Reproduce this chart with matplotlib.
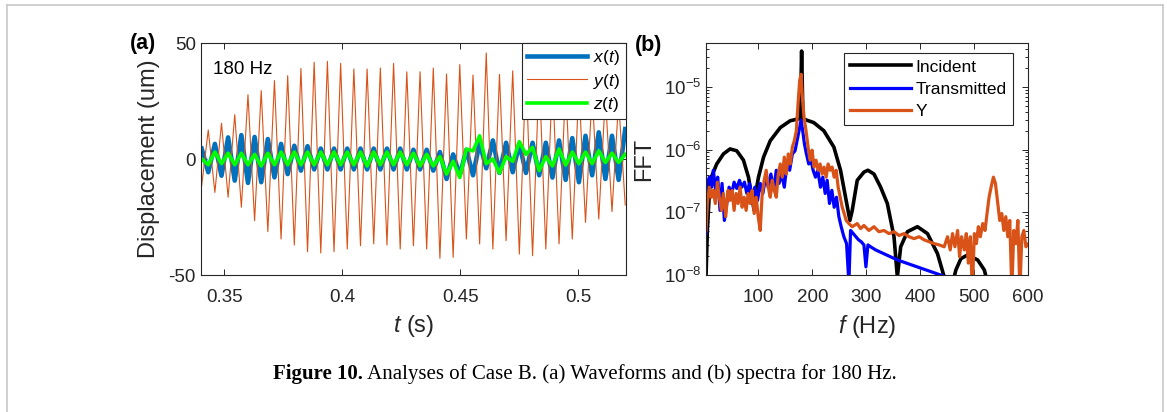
import numpy as np
import matplotlib
matplotlib.use('Agg')
import matplotlib.pyplot as plt
from matplotlib.lines import Line2D
from matplotlib.ticker import FixedLocator, NullFormatter, LogLocator

plt.rcParams['font.family'] = ['Liberation Sans', 'DejaVu Sans']
plt.rcParams['mathtext.fontset'] = 'custom'
plt.rcParams['mathtext.rm'] = 'Liberation Sans'
plt.rcParams['mathtext.it'] = 'Liberation Sans:italic'
plt.rcParams['axes.unicode_minus'] = False

# ---------------- panel (a): waveform extrema (um) ----------------
t_first, t_last = 0.3404, 0.5198          # time of first / last extremum (s)
y_ext = [-11.5, 12.5, -14.4, 15.4, -16.5, 19.1, -20.8, 27.7, -26.6, 29.5,
         -31.3, 33.8, -34.5, 35.9, -37.1, 39.0, -40.0, 41.7, -40.5, 42.1,
         -40.0, 41.2, -38.8, 38.8, -37.4, 38.8, -36.6, 39.2, -37.1, 41.2,
         -38.8, 37.6, -37.4, 37.6, -38.8, 39.2, -42.8, 36.6, -42.4, 40.7,
         -34.5, 36.2, -36.6, 45.7, -38.8, 36.5, -35.2, 38.0, -41.0, 38.0,
         -41.7, 37.0, -38.8, 35.0, -36.6, 33.0, -34.5, 31.0, -27.3, 29.0,
         -25.9, 27.0, -22.7, 25.0, -19.8]
x_ext = [4.5, -5.7, 6.5, -7.2, 9.3, -9.3, 10.3, -10.3, 9.5, -10.0,
         8.6, -7.9, 6.5, -6.5, 5.7, -5.0, 5.5, -4.5, 4.5, -4.5,
         4.5, -4.5, 4.5, -4.5, 4.5, -4.5, 4.5, -4.5, 4.5, -4.5,
         4.5, -4.5, 4.0, -4.5, 4.0, -5.0, 3.0, -8.6, 2.0, -7.0,
         4.0, -7.0, 7.0, -4.0, 8.0, -6.0, 7.0, -5.7, 6.5, -6.0,
         7.0, -7.0, 7.0, -8.0, 8.0, -9.0, 9.0, -10.0, 10.0, -7.0,
         11.5, -8.6, 10.0, -9.0, 12.9]
z_ext = [0.0, -2.5, 3.0, -2.0, 2.5, -2.5, 2.5, -2.5, 2.0, -3.0,
         2.5, -2.5, 3.0, -2.5, 3.0, -2.5, 3.0, -2.5, 3.0, -2.5,
         3.0, -2.5, 3.0, -2.5, 3.0, -3.0, 3.0, -2.5, 3.0, -2.5,
         3.0, -2.5, 2.5, -3.0, 2.0, -3.0, 1.0, -6.5, -1.0, -8.0,
         4.3, 3.5, 10.0, -2.0, 0.0, -6.0, 1.0, -1.0, 7.5, 2.0,
         5.0, -5.0, 1.0, -3.0, 4.3, -2.6, 3.0, -2.0, 3.0, -2.0,
         3.5, -1.5, 2.5, -1.5, 2.0]
t_ext = np.linspace(t_first, t_last, len(y_ext))

a_xticks = [0.35, 0.4, 0.45, 0.5]
a_xticklabels = ['0.35', '0.4', '0.45', '0.5']
a_yticks = [-50, 0, 50]
a_labels = [r'$x(t)$', r'$y(t)$', r'$z(t)$']

# ---------------- panel (b): spectra (f in Hz, log10 of FFT) ----------------
inc_f = [2.6, 5.1, 10.1, 22.5, 34.9, 47.3, 59.7, 72.1, 81.4, 87.6, 92.0, 95.7,
         100.0, 109.4, 121.8, 140.4, 159.0, 174.5, 177.5, 180.0, 182.5, 202.5,
         221.2, 239.8, 252.2, 261.5, 269.6, 273.9, 283.2, 295.6, 303.0, 314.2,
         326.6, 339.0, 351.4, 357.6, 363.8, 376.2, 394.9, 413.5, 432.1, 444.5,
         457.0, 466.2, 475.5, 487.9, 506.6, 519.0, 528.3, 560.0, 600.0]
inc_log = [-8.03, -7.29, -6.49, -6.23, -6.07, -5.99, -6.02, -6.17, -6.44, -6.76,
           -6.97, -6.65, -6.44, -6.12, -5.86, -5.65, -5.54, -5.51, -5.51, -4.43,
           -5.51, -5.57, -5.70, -5.96, -6.33, -6.76, -7.13, -6.97, -6.49, -6.36,
           -6.33, -6.39, -6.60, -6.86, -7.39, -8.03, -7.55, -7.31, -7.23, -7.34,
           -7.66, -8.03, -8.24, -7.92, -7.74, -7.68, -7.76, -7.92, -8.24, -8.6, -8.9]

tr_f = [2.6, 5.1, 8.8, 13.1, 16.2, 20.6, 24.3, 28.6, 32.4, 36.7, 41.1, 45.4,
        50.4, 54.7, 59.7, 64.7, 69.0, 74.0, 78.3, 83.3, 88.3, 93.2, 98.2, 103.2,
        108.1, 113.1, 118.1, 123.0, 128.0, 133.0, 138.0, 142.9, 147.9, 152.8,
        157.8, 162.8, 167.8, 171.5, 175.2, 179.0, 182.0, 185.2, 188.9, 193.2,
        197.6, 201.3, 205.7, 210.0, 215.0, 219.3, 223.7, 227.4, 231.7, 236.1,
        240.4, 244.7, 249.1, 253.4, 258.4, 263.4, 267.7, 270.8, 275.8, 280.7,
        285.7, 290.6, 295.6, 299.3, 303.0, 308.0, 317.3, 357.6, 401.0, 444.5]
tr_log = [-7.34, -6.54, -6.44, -6.60, -6.33, -6.65, -6.44, -6.97, -6.54, -7.13,
          -6.86, -6.60, -6.70, -6.52, -6.62, -6.49, -6.60, -6.52, -6.70, -6.54,
          -6.76, -6.60, -6.81, -6.54, -6.70, -6.44, -6.60, -6.39, -6.65, -6.33,
          -6.54, -6.39, -6.60, -6.23, -6.33, -6.07, -6.02, -5.86, -5.70, -5.53,
          -5.70, -5.91, -6.07, -6.23, -6.17, -6.33, -6.44, -6.33, -6.60, -6.44,
          -6.70, -6.49, -6.86, -6.65, -6.92, -6.76, -7.07, -7.23, -7.39, -7.50,
          -8.13, -7.29, -7.34, -7.39, -7.44, -7.47, -7.52, -7.87, -7.52, -7.55,
          -7.60, -7.76, -7.89, -8.02]

yy_f = [2.6, 5.1, 8.8, 12.5, 16.2, 19.9, 23.7, 27.4, 31.1, 34.9, 39.2, 43.5,
        47.3, 51.0, 54.7, 58.4, 62.2, 65.9, 69.6, 73.4, 77.1, 80.8, 84.5, 88.3,
        92.0, 95.7, 99.4, 103.2, 106.9, 110.6, 114.3, 118.1, 121.8, 125.5, 129.2,
        133.0, 136.7, 140.4, 144.1, 147.9, 151.6, 155.3, 159.0, 162.8, 166.5,
        170.2, 173.3, 176.4, 179.0, 181.4, 184.5, 188.2, 192.0, 195.7, 199.4,
        203.1, 206.8, 210.6, 214.3, 218.0, 221.7, 225.5, 229.2, 232.9, 236.6,
        240.4, 244.1, 247.8, 251.5, 255.3, 259.0, 262.7, 267.7, 273.9, 283.2,
        289.4, 295.6, 304.9, 314.2, 323.5, 332.8, 342.1, 351.4, 360.7, 370.0,
        379.3, 388.6, 398.0, 407.3, 416.6, 425.9, 435.2, 444.5, 450.7, 455.7,
        460.0, 464.4, 469.4, 473.1, 476.8, 481.8, 485.5, 489.3, 493.0, 496.7,
        500.5, 504.2, 507.9, 511.6, 516.0, 520.3, 524.0, 527.8, 531.5, 535.8,
        539.6, 543.9, 547.6, 551.3, 555.1, 558.8, 562.5, 566.2, 570.0, 573.7,
        577.4, 581.2, 584.9, 588.6, 592.3, 596.1, 601.0]
yy_log = [-7.29, -6.86, -6.60, -6.76, -6.65, -6.86, -6.52, -6.76, -6.97, -6.70,
          -7.07, -6.65, -6.81, -6.65, -6.97, -6.70, -6.86, -6.60, -6.92, -6.76,
          -6.97, -6.70, -6.86, -6.65, -7.02, -6.76, -7.07, -7.29, -6.70, -6.49,
          -6.33, -6.60, -6.76, -6.49, -6.65, -6.76, -6.39, -6.23, -6.44, -6.12,
          -6.39, -6.07, -6.23, -5.96, -5.86, -5.70, -5.28, -4.90, -4.80, -5.17,
          -5.49, -5.70, -5.96, -6.17, -6.01, -6.28, -6.17, -6.33, -6.23, -6.39,
          -6.28, -6.44, -6.23, -6.33, -6.28, -6.44, -6.33, -6.60, -6.76, -6.92,
          -7.02, -7.13, -7.18, -7.23, -7.18, -7.26, -7.21, -7.29, -7.23, -7.31,
          -7.29, -7.34, -7.31, -7.37, -7.34, -7.39, -7.42, -7.39, -7.44, -7.47,
          -7.50, -7.52, -7.55, -7.39, -7.60, -7.34, -7.55, -7.29, -7.71, -7.39,
          -7.60, -7.34, -7.81, -7.39, -8.24, -7.34, -7.50, -7.23, -7.39, -7.18,
          -7.29, -7.02, -6.76, -6.60, -6.44, -6.54, -6.86, -7.13, -7.02, -7.29,
          -7.07, -7.39, -7.13, -8.24, -7.29, -7.50, -7.13, -8.24, -7.39, -7.29,
          -7.55, -7.50]

b_xticks = [100, 200, 300, 400, 500, 600]
b_yticks = [1e-8, 1e-7, 1e-6, 1e-5]
b_yticklabels = [r'$10^{-8}$', r'$10^{-7}$', r'$10^{-6}$', r'$10^{-5}$']
b_labels = ['Incident', 'Transmitted', 'Y']

caption_bold = 'Figure 10.'
caption_rest = ' Analyses of Case B. (a) Waveforms and (b) spectra for 180 Hz.'

# ---------------- figure ----------------
W, H = 1167, 412
fig = plt.figure(figsize=(W / 100, H / 100), dpi=100)
fig.patch.set_facecolor('white')

def fx(px):
    return px / W

def fy(py):
    return 1 - py / H

ink = '#262626'

# thin grey frame around the figure block (open at bottom)
frame_c = '#c8c8c8'
fig.add_artist(Line2D([fx(7), fx(7)], [0, fy(5)], color=frame_c, lw=1.2))
fig.add_artist(Line2D([fx(1163), fx(1163)], [0, fy(5)], color=frame_c, lw=1.2))
fig.add_artist(Line2D([fx(7), fx(1163)], [fy(5), fy(5)], color=frame_c, lw=1.2))

def style_axes(ax):
    for s in ax.spines.values():
        s.set_color(ink)
        s.set_linewidth(0.8)
    ax.tick_params(which='both', direction='in', top=True, right=True,
                   colors=ink, labelcolor=ink, labelsize=13.5, width=0.7)
    ax.tick_params(which='major', length=4)
    ax.tick_params(which='minor', length=2.2)

# panel (a)
axA = fig.add_axes([fx(200.7), fy(275), fx(625.7) - fx(200.7), fy(43) - fy(275)])
axA.plot(t_ext, x_ext, color='#0072BD', lw=3.3, label=a_labels[0], solid_joinstyle='round')
axA.plot(t_ext, y_ext, color='#D95319', lw=0.8, label=a_labels[1])
axA.plot(t_ext, z_ext, color='#00FF00', lw=2.6, label=a_labels[2], solid_joinstyle='round')
axA.set_xlim(0.34, 0.52)
axA.set_ylim(-50, 50)
axA.set_xticks(a_xticks)
axA.set_xticklabels(a_xticklabels)
axA.set_yticks(a_yticks)
style_axes(axA)
axA.tick_params(axis='x', pad=10)
axA.set_xlabel(r'$t$ (s)', fontsize=17, color=ink, labelpad=5)
axA.set_ylabel('Displacement (um)', fontsize=17, color=ink, labelpad=6)
axA.text(0.03, 0.885, '180 Hz', transform=axA.transAxes, fontsize=13.5, color='black',
         va='center', ha='left')
legA = axA.legend(loc='upper right', bbox_to_anchor=(1.0, 1.0), borderaxespad=0,
                  fontsize=12.5, handlelength=3.4, handletextpad=0.4, labelspacing=0.25,
                  borderpad=0.3, fancybox=False, framealpha=1, edgecolor=ink)
legA.get_frame().set_linewidth(0.8)
fig.text(fx(143), fy(44), '(a)', fontsize=15.5, fontweight='bold', ha='center', va='center')

# panel (b)
axB = fig.add_axes([fx(706), fy(275), fx(1028) - fx(706), fy(43) - fy(275)])
axB.semilogy(inc_f, 10 ** np.array(inc_log), color='black', lw=2.6, label=b_labels[0])
axB.semilogy(tr_f, 10 ** np.array(tr_log), color='#0000FF', lw=2.3, label=b_labels[1])
axB.semilogy(yy_f, 10 ** np.array(yy_log), color='#D95319', lw=2.3, label=b_labels[2])
axB.set_xlim(2.6, 600)
axB.set_ylim(1e-8, 5e-5)
axB.set_xticks(b_xticks)
axB.yaxis.set_major_locator(FixedLocator(b_yticks))
axB.set_yticklabels(b_yticklabels)
axB.yaxis.set_minor_locator(LogLocator(base=10, subs=np.arange(2, 10), numticks=20))
axB.yaxis.set_minor_formatter(NullFormatter())
style_axes(axB)
axB.tick_params(axis='x', pad=10)
axB.set_xlabel(r'$f$ (Hz)', fontsize=17, color=ink, labelpad=5)
axB.set_ylabel('FFT', fontsize=17, color=ink, labelpad=6)
legB = axB.legend(loc='upper right', bbox_to_anchor=(0.9525, 0.9556), borderaxespad=0,
                  fontsize=12.5, handlelength=3.5, handletextpad=0.25, labelspacing=0.42,
                  borderpad=0.35, fancybox=False, framealpha=1, edgecolor=ink)
legB.get_frame().set_linewidth(0.8)
fig.text(fx(649), fy(45), '(b)', fontsize=15.5, fontweight='bold', ha='center', va='center')

# caption
capfont = ['Liberation Serif', 'DejaVu Serif']
cap_y = fy(374)
t1 = fig.text(fx(273), cap_y, caption_bold, fontsize=15, fontweight='bold',
              family=capfont, ha='left', va='center')
fig.canvas.draw()
bb = t1.get_window_extent()
fig.text(bb.x1 / W, cap_y, caption_rest, fontsize=15, family=capfont,
         ha='left', va='center')

fig.savefig('out.png', dpi=100, facecolor='white')
